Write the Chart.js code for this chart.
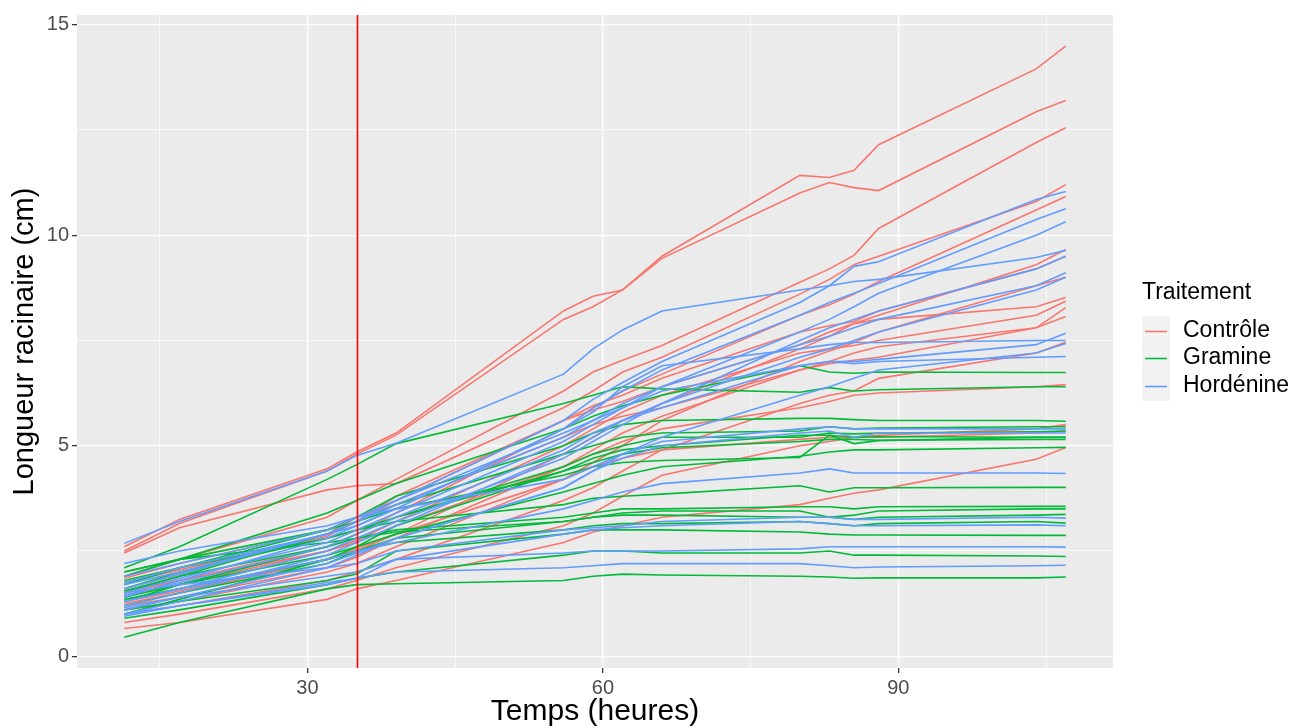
<!DOCTYPE html>
<html lang="fr">
<head>
<meta charset="utf-8">
<title>Longueur racinaire</title>
<script src="https://cdn.jsdelivr.net/npm/chart.js@4.4.1/dist/chart.umd.min.js"></script>
<style>
  html, body { margin: 0; padding: 0; background: #ffffff; }
  #wrap { width: 1303px; height: 728px; }
</style>
</head>
<body>
<div id="wrap"><canvas id="chart" width="1303" height="728"></canvas></div>
<script>
// sampling times (hours)
const hours = [11.4, 17, 32, 35, 39, 56, 59, 62, 66, 80, 83, 85.5, 88, 104, 107];

// one row per plant, root length (cm) at each sampling time
const controle = [
  [2.6, 3.25, 4.45, 4.85, 5.3, 8.2, 8.55, 8.7, 9.5, 11.42, 11.37, 11.54, 12.15, 13.95, 14.49],
  [2.5, 3.15, 4.4, 4.8, 5.25, 8.0, 8.3, 8.7, 9.45, 11.0, 11.25, 11.13, 11.06, 12.93, 13.2],
  [1.9, 2.3, 3.3, 3.7, 4.2, 6.3, 6.75, 7.03, 7.38, 8.88, 9.2, 9.52, 10.16, 12.2, 12.55],
  [2.45, 3.05, 3.95, 4.05, 4.1, 5.9, 6.3, 6.75, 7.1, 8.6, 8.95, 9.3, 9.5, 10.8, 11.2],
  [1.5, 1.8, 2.6, 2.9, 3.4, 5.4, 5.9, 6.3, 6.7, 8.1, 8.35, 8.6, 8.9, 10.6, 10.92],
  [1.3, 1.55, 2.3, 2.5, 2.9, 4.8, 5.2, 5.6, 6.0, 7.3, 7.6, 7.9, 8.1, 9.3, 9.66],
  [1.75, 2.05, 2.85, 3.2, 3.8, 5.6, 5.95, 6.2, 6.6, 7.7, 7.85, 7.95, 8.2, 9.2, 9.5],
  [1.1, 1.3, 2.0, 2.2, 2.6, 4.2, 4.6, 5.0, 5.6, 7.0, 7.25, 7.45, 7.7, 8.8, 9.0],
  [1.6, 1.95, 2.9, 3.3, 3.7, 5.6, 5.85, 6.05, 6.4, 7.4, 7.7, 7.9, 8.0, 8.3, 8.52],
  [1.45, 1.7, 2.5, 2.75, 3.2, 5.0, 5.4, 5.8, 6.2, 7.2, 7.3, 7.38, 7.5, 8.1, 8.43],
  [1.2, 1.4, 2.1, 2.35, 2.8, 4.5, 4.9, 5.3, 5.7, 6.8, 7.0, 7.2, 7.35, 7.8, 8.28],
  [1.85, 2.2, 3.0, 3.3, 3.6, 5.2, 5.5, 5.7, 5.9, 6.8, 6.95, 7.03, 7.1, 7.8, 8.07],
  [1.0, 1.2, 1.8, 2.0, 2.3, 3.7, 4.0, 4.4, 4.9, 6.0, 6.2, 6.3, 6.6, 7.2, 7.46],
  [1.55, 1.8, 2.5, 2.7, 3.1, 4.5, 4.8, 5.1, 5.4, 5.9, 6.05, 6.2, 6.25, 6.4, 6.45],
  [1.25, 1.5, 2.3, 2.55, 2.9, 4.2, 4.5, 4.7, 4.9, 5.15, 5.2, 5.2, 5.25, 5.4, 5.5],
  [0.8, 1.0, 1.6, 1.8, 2.1, 3.1, 3.4, 3.8, 4.3, 5.0, 5.1, 5.2, 5.2, 5.3, 5.35],
  [0.66, 0.8, 1.35, 1.6, 1.8, 2.7, 2.95, 3.1, 3.3, 3.6, 3.75, 3.87, 3.95, 4.68, 4.96]
];

const gramine = [
  [1.9, 2.3, 3.4, 3.7, 4.1, 5.4, 5.7, 5.95, 6.2, 6.9, 6.75, 6.72, 6.75, 6.74, 6.74],
  [2.1, 2.6, 4.2, 4.55, 5.05, 6.0, 6.2, 6.4, 6.35, 6.27, 6.38, 6.3, 6.33, 6.4, 6.4],
  [1.7, 2.1, 3.0, 3.3, 3.8, 5.0, 5.3, 5.5, 5.6, 5.65, 5.65, 5.62, 5.6, 5.6, 5.58],
  [1.5, 1.9, 2.9, 3.2, 3.6, 4.8, 5.0, 5.2, 5.3, 5.35, 5.45, 5.4, 5.42, 5.45, 5.45],
  [1.3, 1.7, 2.6, 2.9, 3.3, 4.5, 4.8, 5.0, 5.2, 5.2, 5.3, 5.28, 5.3, 5.33, 5.35],
  [2.0, 2.3, 3.0, 3.2, 3.5, 4.3, 4.5, 4.6, 4.65, 4.72, 5.25, 5.05, 5.12, 5.2, 5.2],
  [1.6, 2.0, 2.8, 3.0, 3.3, 4.4, 4.6, 4.8, 4.95, 5.1, 5.15, 5.15, 5.13, 5.15, 5.15],
  [1.4, 1.7, 2.4, 2.6, 2.9, 3.9, 4.1, 4.3, 4.5, 4.75, 4.85, 4.9, 4.9, 4.95, 4.96],
  [1.0, 1.35, 2.3, 2.6, 3.1, 4.4, 4.7, 4.9, 5.0, 5.25, 5.25, 5.2, 5.22, 5.2, 5.2],
  [1.8, 2.1, 2.8, 3.0, 3.2, 3.6, 3.75, 3.8, 3.85, 4.05, 3.9, 4.0, 4.0, 4.01, 4.01],
  [1.55, 1.9, 2.6, 2.8, 3.0, 3.3, 3.4, 3.5, 3.5, 3.55, 3.55, 3.5, 3.55, 3.56, 3.56],
  [1.2, 1.5, 2.2, 2.5, 2.8, 3.2, 3.3, 3.4, 3.45, 3.45, 3.3, 3.35, 3.45, 3.5, 3.5],
  [2.0, 2.3, 2.7, 2.8, 2.95, 3.2, 3.3, 3.35, 3.35, 3.3, 3.3, 3.25, 3.3, 3.35, 3.37],
  [1.35, 1.6, 2.3, 2.5, 2.7, 3.0, 3.1, 3.15, 3.15, 3.2, 3.15, 3.1, 3.15, 3.2, 3.16],
  [1.1, 1.3, 1.8, 1.95, 2.5, 2.9, 3.0, 3.0, 3.0, 2.95, 2.9, 2.88, 2.88, 2.87, 2.87],
  [0.9, 1.1, 1.7, 1.85, 2.0, 2.4, 2.5, 2.5, 2.45, 2.45, 2.5, 2.4, 2.4, 2.38, 2.37],
  [0.45, 0.8, 1.6, 1.7, 1.72, 1.8, 1.9, 1.95, 1.93, 1.9, 1.88, 1.85, 1.86, 1.86, 1.88]
];

const hordenine = [
  [2.68, 3.2, 4.4, 4.77, 5.06, 6.7, 7.3, 7.75, 8.2, 8.7, 8.8, 8.9, 8.95, 9.47, 9.64],
  [1.6, 1.95, 2.9, 3.2, 3.7, 5.6, 6.1, 6.5, 7.0, 8.4, 8.8, 9.26, 9.37, 10.85, 11.04],
  [1.4, 1.8, 2.8, 3.1, 3.5, 5.4, 5.9, 6.3, 6.8, 8.1, 8.4, 8.62, 8.85, 10.37, 10.63],
  [1.5, 1.85, 2.7, 3.0, 3.4, 5.1, 5.5, 5.9, 6.4, 7.7, 8.0, 8.3, 8.62, 10.0, 10.32],
  [1.2, 1.5, 2.4, 2.7, 3.1, 4.8, 5.2, 5.6, 6.0, 7.5, 7.8, 8.0, 8.2, 9.2, 9.5],
  [1.7, 2.0, 2.9, 3.2, 3.6, 5.2, 5.6, 6.0, 6.4, 7.4, 7.6, 7.8, 8.0, 8.8, 9.11],
  [1.3, 1.6, 2.5, 2.8, 3.2, 4.7, 5.1, 5.5, 6.0, 7.1, 7.3, 7.5, 7.7, 8.7, 9.0],
  [1.9, 2.2, 3.0, 3.3, 3.7, 5.3, 5.6, 5.9, 6.3, 6.9, 7.0, 7.0, 7.05, 7.4, 7.67],
  [1.75, 2.1, 2.9, 3.1, 3.5, 5.4, 5.8, 6.4, 6.9, 7.3, 7.4, 7.45, 7.45, 7.5, 7.5],
  [1.1, 1.4, 2.2, 2.45, 2.8, 4.0, 4.4, 4.8, 5.2, 6.2, 6.4, 6.6, 6.8, 7.2, 7.43],
  [1.45, 1.75, 2.6, 2.9, 3.3, 4.9, 5.3, 5.6, 5.9, 6.9, 7.0, 6.95, 7.0, 7.1, 7.12],
  [2.2, 2.5, 3.1, 3.3, 3.5, 4.2, 4.5, 4.8, 5.1, 5.4, 5.45, 5.4, 5.4, 5.4, 5.4],
  [1.0, 1.3, 2.1, 2.4, 2.8, 4.0, 4.4, 4.7, 5.0, 5.3, 5.35, 5.2, 5.3, 5.3, 5.3],
  [1.3, 1.6, 2.3, 2.5, 2.7, 3.5, 3.7, 3.9, 4.1, 4.35, 4.45, 4.35, 4.35, 4.35, 4.34],
  [1.5, 1.7, 2.1, 2.2, 2.5, 3.0, 3.05, 3.1, 3.2, 3.3, 3.3, 3.25, 3.25, 3.3, 3.28],
  [1.15, 1.4, 1.9, 2.0, 2.3, 2.9, 3.0, 3.05, 3.1, 3.2, 3.15, 3.1, 3.1, 3.12, 3.1],
  [0.95, 1.2, 1.7, 1.85, 2.3, 2.45, 2.5, 2.5, 2.5, 2.55, 2.6, 2.6, 2.6, 2.6, 2.59],
  [1.0, 1.2, 1.75, 1.85, 2.0, 2.1, 2.15, 2.2, 2.2, 2.2, 2.15, 2.1, 2.12, 2.15, 2.16]
];

const treatments = ['Contrôle', 'Gramine', 'Hordénine'];
const treatmentColors = ['#F8766D', '#00BA38', '#619CFF'];
const markerHour = 35;

const xTicks = [15, 30, 45, 60, 75, 90, 105];
const yTicks = [0, 2.5, 5, 7.5, 10, 12.5, 15];

const FONT = "'Liberation Sans', Arial, Helvetica, sans-serif";

function makeDatasets(rows, idx) {
  return rows.map((vals, k) => ({
    label: treatments[idx] + ' ' + (k + 1),
    data: hours.map((h, i) => ({ x: h, y: vals[i] })),
    borderColor: treatmentColors[idx],
    borderWidth: 1.6,
    pointRadius: 0,
    pointHoverRadius: 0,
    fill: false,
    tension: 0,
    order: 3 - idx
  }));
}

const datasets = [
  ...makeDatasets(controle, 0),
  ...makeDatasets(gramine, 1),
  ...makeDatasets(hordenine, 2)
];

// grey panel behind the grid, like ggplot's theme_gray
const panelBg = {
  id: 'panelBg',
  beforeDraw(chart) {
    const { ctx, chartArea: a } = chart;
    ctx.save();
    ctx.fillStyle = '#EBEBEB';
    ctx.fillRect(a.left, a.top, a.right - a.left, a.bottom - a.top);
    ctx.restore();
  }
};

// red vertical marker + legend on the right
const extras = {
  id: 'extras',
  afterDatasetsDraw(chart) {
    const { ctx, chartArea: a, scales } = chart;
    const px = Math.round(scales.x.getPixelForValue(markerHour)) + 0.5;
    ctx.save();
    ctx.strokeStyle = '#FF0000';
    ctx.lineWidth = 1.6;
    ctx.beginPath();
    ctx.moveTo(px, a.top);
    ctx.lineTo(px, a.bottom);
    ctx.stroke();
    ctx.restore();
  },
  afterDraw(chart) {
    const { ctx } = chart;
    const lx = 1142, ty = 293, key = 28, rowY = [331, 358, 386];
    ctx.save();
    ctx.fillStyle = '#000000';
    ctx.font = '23px ' + FONT;
    ctx.textBaseline = 'middle';
    ctx.textAlign = 'left';
    ctx.fillText('Traitement', lx, ty);
    ctx.fillStyle = '#F2F2F2';
    ctx.fillRect(lx, rowY[0] - key / 2 - 1, key, rowY[2] - rowY[0] + key + 2);
    treatments.forEach((name, i) => {
      ctx.strokeStyle = treatmentColors[i];
      ctx.lineWidth = 1.6;
      ctx.beginPath();
      ctx.moveTo(lx + 3, rowY[i] + 0.5);
      ctx.lineTo(lx + key - 3, rowY[i] + 0.5);
      ctx.stroke();
      ctx.fillStyle = '#000000';
      ctx.font = '23px ' + FONT;
      ctx.fillText(name, 1183, rowY[i]);
    });
    ctx.restore();
  }
};

new Chart(document.getElementById('chart'), {
  type: 'line',
  data: { datasets },
  options: {
    responsive: false,
    animation: false,
    devicePixelRatio: 1,
    events: [],
    layout: { padding: { top: 14, right: 190, left: 0, bottom: 0 } },
    plugins: { legend: { display: false }, tooltip: { enabled: false } },
    scales: {
      x: {
        type: 'linear',
        min: 6.6,
        max: 111.8,
        afterBuildTicks: (s) => { s.ticks = xTicks.map(v => ({ value: v })); },
        afterFit: (s) => { s.height = 60; },
        border: { display: false },
        grid: {
          color: '#FFFFFF',
          lineWidth: (c) => (c.tick && c.tick.value % 30 === 0 ? 1.3 : 0.7),
          drawTicks: true,
          tickLength: 5,
          tickColor: (c) => (c.tick && c.tick.value % 30 === 0 ? '#333333' : 'rgba(0,0,0,0)')
        },
        ticks: {
          color: '#4D4D4D',
          font: { family: FONT, size: 20 },
          padding: 3,
          maxRotation: 0,
          autoSkip: false,
          callback: (v) => (v % 30 === 0 ? String(v) : '')
        },
        title: {
          display: true,
          text: 'Temps (heures)',
          color: '#000000',
          font: { family: FONT, size: 30 },
          padding: { top: 0, bottom: -2 }
        }
      },
      y: {
        type: 'linear',
        min: -0.28,
        max: 15.23,
        afterBuildTicks: (s) => { s.ticks = yTicks.map(v => ({ value: v })); },
        afterFit: (s) => { s.width = 77; },
        border: { display: false },
        grid: {
          color: '#FFFFFF',
          lineWidth: (c) => (c.tick && c.tick.value % 5 === 0 ? 1.3 : 0.7),
          drawTicks: true,
          tickLength: 5,
          tickColor: (c) => (c.tick && c.tick.value % 5 === 0 ? '#333333' : 'rgba(0,0,0,0)')
        },
        ticks: {
          color: '#4D4D4D',
          font: { family: FONT, size: 20 },
          padding: 3,
          autoSkip: false,
          callback: (v) => (v % 5 === 0 ? String(v) : '')
        },
        title: {
          display: true,
          text: 'Longueur racinaire (cm)',
          color: '#000000',
          font: { family: FONT, size: 29 },
          padding: { top: 8, bottom: 0 }
        }
      }
    }
  },
  plugins: [panelBg, extras]
});
</script>
</body>
</html>
